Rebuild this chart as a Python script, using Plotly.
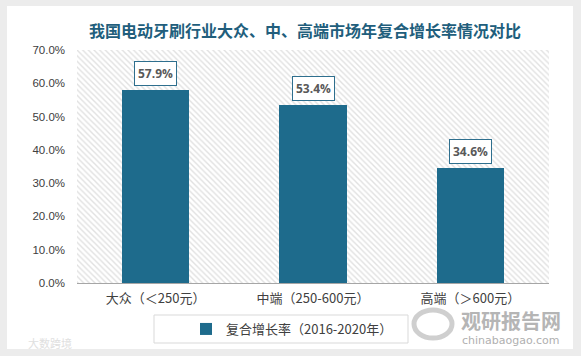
import plotly.graph_objects as go

categories = ["大众（＜250元）", "中端（250-600元）", "高端（＞600元）"]
values = [57.9, 53.4, 34.6]
series_name = "复合增长率（2016-2020年）"
title_text = "我国电动牙刷行业大众、中、高端市场年复合增长率情况对比"
y_ticks = [0, 10, 20, 30, 40, 50, 60, 70]
y_max = 70

W, H = 581, 356
L, R, T, B = 77, 32, 50, 73
pw, ph = W - L - R, H - T - B

def px2x(px):
    return (px - L) / pw

def py2y(py):
    return (H - B - py) / ph

bar_color = "#1e6b8c"
font_cjk = "Noto Sans CJK SC"

fig = go.Figure()

# hatched plot background
fig.add_trace(go.Bar(
    x=[categories[1]], y=[y_max], width=[3],
    marker=dict(color="white", line=dict(width=0),
                pattern=dict(shape="\\", fgcolor="#c4c4c4", bgcolor="white", size=4, solidity=0.35)),
    showlegend=False, hoverinfo="skip",
))

fig.add_trace(go.Bar(
    x=categories, y=values, width=0.43, name=series_name,
    marker=dict(color=bar_color, line=dict(width=0)),
))

for c, v in zip(categories, values):
    fig.add_annotation(
        x=c, y=v, text=f"<b>{v:.1f}%</b>", showarrow=False,
        yanchor="bottom", yshift=4,
        font=dict(family="Open Sans", size=12, color="#595959"),
        bgcolor="white", bordercolor="#2e6f8e", borderwidth=1, borderpad=3,
    )

# card
fig.add_shape(type="rect", xref="paper", yref="paper",
              x0=px2x(7), x1=px2x(573), y0=py2y(349), y1=py2y(6),
              fillcolor="white", line=dict(width=0), layer="below")
# legend box
fig.add_shape(type="rect", xref="paper", yref="paper",
              x0=px2x(154), x1=px2x(408), y0=py2y(343), y1=py2y(315),
              fillcolor="rgba(0,0,0,0)", line=dict(color="#d9d9d9", width=1), layer="above")
# watermark logo ring
fig.add_shape(type="circle", xref="paper", yref="paper",
              x0=px2x(414), x1=px2x(452), y0=py2y(338), y1=py2y(310),
              fillcolor="rgba(0,0,0,0)", line=dict(color="#cfcfcf", width=5), layer="above")

# watermarks
fig.add_annotation(xref="paper", yref="paper", x=px2x(511), y=py2y(320),
                   xanchor="center", yanchor="middle",
                   text="<b>观研报告网</b>", showarrow=False,
                   font=dict(family=font_cjk, size=20, color="#b5b5b5"))
fig.add_annotation(xref="paper", yref="paper", x=px2x(511), y=py2y(340),
                   xanchor="center", yanchor="middle",
                   text="chinabaogao.com", showarrow=False,
                   font=dict(family="DejaVu Sans", size=11, color="#b0b0b0"))
fig.add_annotation(xref="paper", yref="paper", x=px2x(50), y=py2y(343),
                   xanchor="center", yanchor="middle",
                   text="大数跨境", showarrow=False,
                   font=dict(family=font_cjk, size=11, color="#e0e0e0"))

fig.update_layout(
    width=W, height=H,
    margin=dict(l=L, r=R, t=T, b=B),
    paper_bgcolor="#ececec",
    plot_bgcolor="white",
    barmode="overlay",
    title=dict(text=f"<b>{title_text}</b>", x=305 / W, xanchor="center",
               y=1 - 31 / H, yanchor="middle",
               font=dict(family=font_cjk, size=16, color="#215e7c")),
    xaxis=dict(type="category", categoryorder="array", categoryarray=categories,
               range=[-0.5, 2.5], showgrid=False,
               showline=True, linecolor="#a6a6a6", linewidth=1, ticks="",
               tickfont=dict(family=font_cjk, size=13, color="#404040"),
               ticklabelstandoff=3),
    yaxis=dict(range=[0, y_max], tickvals=y_ticks,
               ticktext=[f"{t:.1f}%" for t in y_ticks],
               showgrid=False, zeroline=False, showline=False,
               tickfont=dict(family="Liberation Sans", size=11.5, color="#404040"),
               ticklabelstandoff=11),
    showlegend=True,
    legend=dict(orientation="h", x=px2x(292), xanchor="center", y=py2y(329), yanchor="middle",
                bgcolor="rgba(0,0,0,0)", borderwidth=0, itemwidth=30,
                font=dict(family=font_cjk, size=13, color="#404040")),
    bargap=0,
)

fig.write_html("out.html", config={"displayModeBar": False},
               post_script="document.body.style.margin='0';")
